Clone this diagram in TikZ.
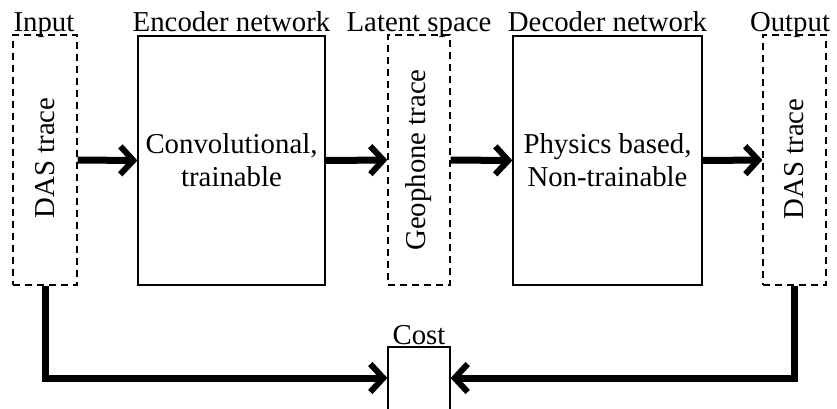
\documentclass[tikz,border=0pt]{standalone}
\usepackage{fontspec}
\setmainfont{Liberation Serif}
\usetikzlibrary{arrows.meta}
\begin{document}
\begin{tikzpicture}[x=0.5pt,y=-0.5pt,
  font=\fontsize{14.4}{16.5}\selectfont,
  dbox/.style={draw, dash pattern=on 3.5pt off 2.5pt, line width=0.6pt, inner sep=0pt, minimum width=#1, minimum height=125pt},
  sbox/.style={draw, line width=0.6pt, inner sep=0pt, minimum width=#1, minimum height=124.5pt, align=center},
  lab/.style={anchor=base, inner sep=0pt},
  flow/.style={line width=3.5pt, -{Straight Barb[length=6.5pt,width=14pt,line width=3pt]}},
  fb/.style={line width=3.5pt, line join=miter, -{Straight Barb[length=6.5pt,width=14pt,line width=3pt]}}
]
\useasboundingbox (0,0) rectangle (837,408);
\clip (0,0) rectangle (837,408);
\node[dbox=32pt] (in) at (45,160) {};
\node[rotate=90] (intxt) at (45,158) {DAS trace};
\node[sbox=93.5pt] (enc) at (231.5,160.5) {Convolutional,\\trainable};
\node[dbox=31pt] (lat) at (419,160) {};
\node[rotate=90] (lattxt) at (419,160) {Geophone trace};
\node[sbox=94.5pt] (dec) at (607.5,160.5) {Physics based,\\Non-trainable};
\node[dbox=31.5pt] (out) at (794.5,160) {};
\node[rotate=90] (outtxt) at (794.5,159) {DAS trace};
\node[draw, line width=0.6pt, inner sep=0pt, minimum width=31pt, minimum height=40pt] (cost) at (419,387) {};

\node[lab] (l1) at (44,31) {Input};
\node[lab] (l2) at (231.5,31) {Encoder network};
\node[lab] (l3) at (419,31) {Latent space};
\node[lab] (l4) at (607.5,31) {Decoder network};
\node[lab] (l5) at (790,31) {Output};
\node[lab] (l6) at (419,344) {Cost};

\draw[flow] (in.east) -- (enc.west);
\draw[flow] (enc.east) -- (lat.west);
\draw[flow] (lat.east) -- (dec.west);
\draw[flow] (dec.east) -- (out.west);
\draw[fb] (in.south) |- ([yshift=4.5pt]cost.west);
\draw[fb] (out.south) |- ([yshift=4.5pt]cost.east);
\end{tikzpicture}
\end{document}
